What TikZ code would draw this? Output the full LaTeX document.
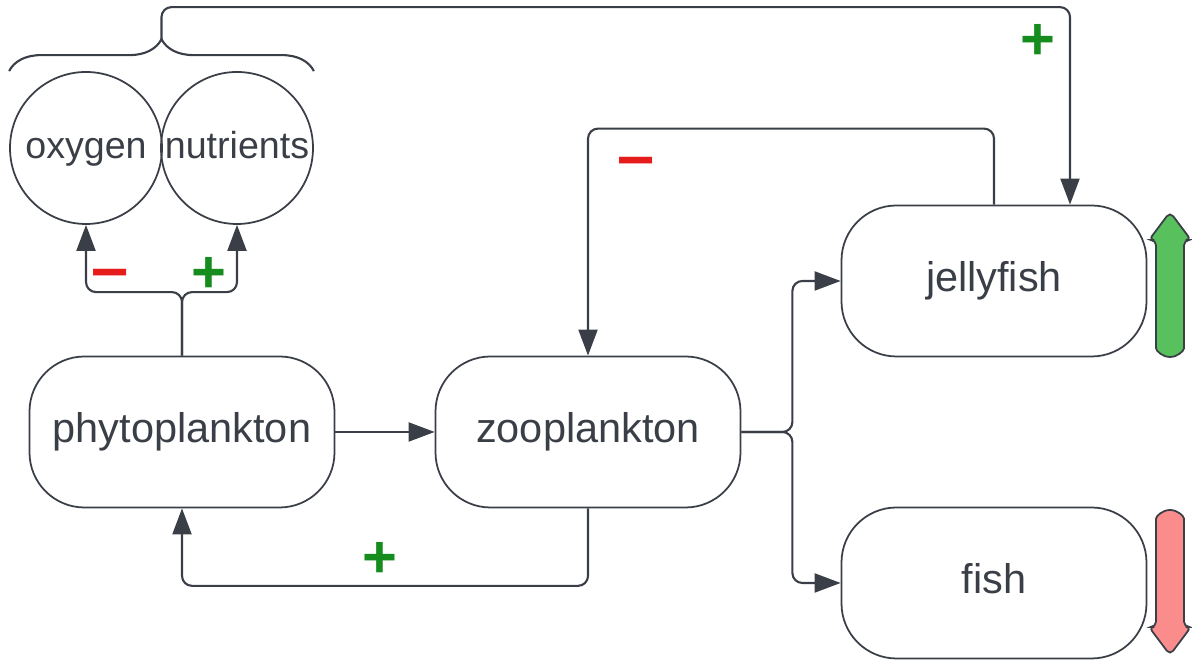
\documentclass[tikz,border=0pt]{standalone}
\usepackage{fontspec}
\setmainfont{Liberation Sans}
\usetikzlibrary{arrows.meta,decorations.pathreplacing,calc}

\definecolor{ink}{RGB}{58,63,71}
\definecolor{plusgreen}{RGB}{22,140,30}
\definecolor{minusred}{RGB}{230,28,28}
\definecolor{upfill}{RGB}{88,192,92}
\definecolor{downfill}{RGB}{250,140,140}

\begin{document}
\begin{tikzpicture}[
    >={Triangle[length=0.26cm,width=0.19cm]},
    organism/.style={rectangle, rounded corners=0.55cm, draw=ink, line width=0.5pt,
                     minimum width=3.05cm, minimum height=1.51cm,
                     text height=1.6ex, text depth=0.45ex,
                     font=\fontsize{11.8}{14}\selectfont, text=ink},
    factor/.style={circle, draw=ink, line width=0.5pt, minimum size=1.52cm,
                   inner sep=0pt, text height=1.6ex, text depth=0.45ex,
                   font=\fontsize{10.7}{13}\selectfont, text=ink},
    link/.style={->, draw=ink, line width=0.6pt, rounded corners=0.1cm},
    plussign/.style={font=\fontsize{17}{17}\selectfont\bfseries, text=plusgreen},
    minussign/.style={font=\fontsize{19}{19}\selectfont\bfseries, text=minusred},
    trend/.style={draw=ink, line width=0.5pt, rounded corners=1.5pt}
]
\useasboundingbox (0,0) rectangle (11.92,6.62);

% Organismos
\node[organism] (phyto) at (1.82,2.30) {phytoplankton};
\node[organism] (zoo)   at (5.88,2.30) {zooplankton};
\node[organism] (jelly) at (9.94,3.81) {jellyfish};
\node[organism] (fish)  at (9.94,0.79) {fish};

% Factores del agua
\node[factor] (oxygen)    at (0.86,5.14) {oxygen};
\node[factor] (nutrients) at (2.37,5.14) {nutrients};

% Llave sobre los dos factores
\draw[ink, line width=0.6pt, decorate, decoration={brace, amplitude=0.32cm}]
    (oxygen.west |- oxygen.north) -- (nutrients.east |- nutrients.north);
\coordinate (tip) at ($(oxygen.north)!0.5!(nutrients.north)+(0,0.32)$);
\coordinate (jin) at ($(jelly.north)+(0.76,0)$);
\draw[link] (tip) -- ++(0,0.32) -| (jin);

% Fitoplancton hacia oxigeno y nutrientes
\coordinate (up) at ($(phyto.north)+(0,0.635)$);
\draw[link] (phyto.north) -- (up) -| (oxygen.south);
\draw[link] (phyto.north) -- (up) -| (nutrients.south);

% Cadena trofica
\draw[link] (phyto.east) -- (zoo.west);
\draw[link] (zoo.south) -- ++(0,-0.775) -| (phyto.south);
\draw[link] (jelly.north) -- ++(0,0.76) -| (zoo.north);

\coordinate (split) at ($(zoo.east)+(0.51,0)$);
\draw[link] (zoo.east) -- (split) |- (jelly.west);
\draw[link] (zoo.east) -- (split) |- (fish.west);

% Signos
\node[plussign]  (s1) at (10.38,6.20) {+};
\node[minussign] (s2) at (6.36,4.94)  {–};
\node[minussign] (s3) at (1.10,3.82)  {–};
\node[plussign]  (s4) at (2.09,3.87)  {+};
\node[plussign]  (s5) at (3.80,1.02)  {+};

% Tendencias
\draw[trend, fill=upfill] (11.56,4.22) -- (11.56,3.19)
    arc[start angle=180, end angle=360, radius=0.14]
    -- (11.84,4.22) -- (11.91,4.22) -- (11.70,4.50) -- (11.49,4.22) -- cycle;
\draw[trend, fill=downfill] (11.56,0.35) -- (11.56,1.38)
    arc[start angle=180, end angle=0, radius=0.14]
    -- (11.84,0.35) -- (11.91,0.35) -- (11.70,0.07) -- (11.49,0.35) -- cycle;

\end{tikzpicture}
\end{document}
